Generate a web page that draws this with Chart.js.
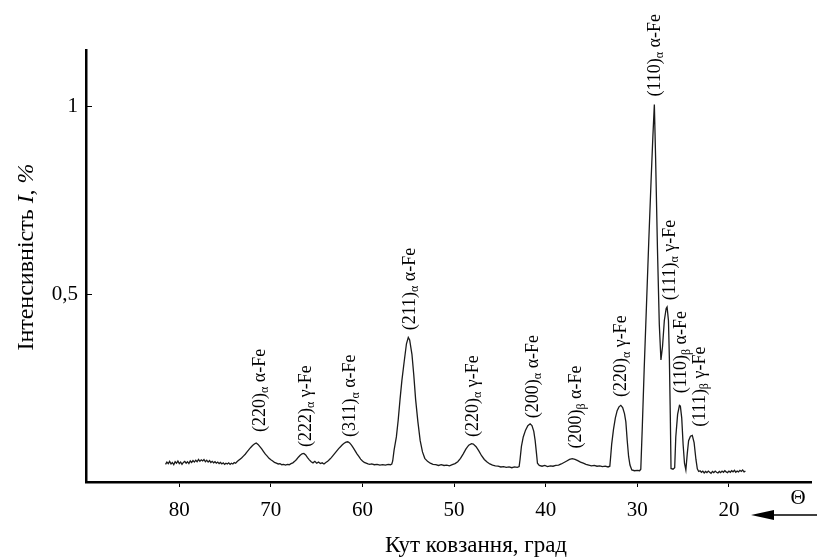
<!DOCTYPE html>
<html lang="uk">
<head>
<meta charset="UTF-8">
<title>XRD</title>
<script src="https://cdn.jsdelivr.net/npm/chart.js@4.4.1/dist/chart.umd.min.js"></script>
<style>
    html, body { margin: 0; padding: 0; background: #fff; }
    #wrap { width: 817px; height: 559px; }
</style>
</head>
<body>
<div id="wrap"><canvas id="xrd" width="817" height="559"></canvas></div>
<script>
    // diffraction angle, deg (descending)
    const theta = [
        81.5, 81.35, 81.2, 81.05, 80.9, 80.75, 80.6, 80.45, 80.3, 80.15, 80.0, 79.85, 79.7, 79.55, 79.4, 79.25,
        79.1, 78.95, 78.8, 78.65, 78.5, 78.35, 78.2, 78.05, 77.9, 77.75, 77.6, 77.45, 77.3, 77.15, 77.0, 76.85,
        76.7, 76.55, 76.4, 76.25, 76.1, 75.95, 75.8, 75.65, 75.5, 75.35, 75.2, 75.05, 74.9, 74.75, 74.6, 74.45,
        74.3, 74.15, 74.0, 73.85, 73.7, 73.55,
        73.4, 73.2, 73.0, 72.8, 72.6, 72.4, 72.2, 72.0, 71.8, 71.6, 71.4, 71.2, 71.0, 70.8, 70.6, 70.4, 70.2, 70.0,
        69.8, 69.6, 69.4, 69.2, 69.0, 68.8, 68.6, 68.4, 68.2, 68.0, 67.8, 67.6, 67.4, 67.2, 67.0, 66.8, 66.6, 66.4,
        66.2, 66.0, 65.8, 65.6, 65.4, 65.2, 65.0, 64.8, 64.6, 64.4, 64.2, 64.0, 63.8, 63.6, 63.4, 63.2, 63.0, 62.8,
        62.6, 62.4, 62.2, 62.0, 61.8, 61.6, 61.4, 61.2, 61.0, 60.8, 60.6, 60.4, 60.2, 60.0, 59.8, 59.6, 59.4, 59.2,
        59.0, 58.7, 58.4, 58.1, 57.8, 57.5, 57.2, 56.95,
        56.8, 56.7, 56.55, 56.3, 56.1, 55.9, 55.7, 55.45, 55.2, 55.0, 54.85, 54.6, 54.4, 54.2, 53.95, 53.7, 53.45,
        53.2, 52.9, 52.6, 52.3, 52.0, 51.7, 51.4, 51.1, 50.8, 50.5, 50.2, 49.9, 49.6, 49.3, 49.0, 48.7, 48.4, 48.1,
        47.9, 47.6, 47.3, 47.0, 46.7, 46.4, 46.1, 45.8, 45.5, 45.2, 44.9, 44.6, 44.3, 44.0, 43.7, 43.4, 43.1, 42.9,
        42.8, 42.65, 42.45, 42.2, 41.95, 41.7, 41.5, 41.3, 41.15, 41.0, 40.9, 40.7, 40.4, 40.1, 39.8, 39.5, 39.2,
        38.9, 38.6, 38.3, 38.0, 37.7, 37.4, 37.1, 36.8, 36.5, 36.2, 35.9, 35.6, 35.3, 35.0, 34.7, 34.4, 34.1, 33.8,
        33.5, 33.2, 33.0, 32.9, 32.8, 32.6, 32.4, 32.2, 32.0, 31.8, 31.6, 31.4, 31.25, 31.1, 30.95, 30.8, 30.6,
        30.3, 30.0, 29.75, 29.62, 29.45, 29.25, 29.0, 28.75, 28.5, 28.3, 28.14, 28.0, 27.8, 27.6, 27.42, 27.25,
        27.05, 26.85, 26.75, 26.6, 26.5, 26.4, 26.32, 26.1, 25.92, 25.8, 25.6, 25.4, 25.3, 25.15, 25.0, 24.85,
        24.7, 24.55, 24.4, 24.2, 24.0, 23.8, 23.6, 23.45, 23.3,
        23.15, 23.0, 22.85, 22.7, 22.55, 22.4, 22.25, 22.1, 21.95, 21.8, 21.65, 21.5, 21.35, 21.2, 21.05, 20.9,
        20.75, 20.6, 20.45, 20.3, 20.15, 20.0, 19.85, 19.7, 19.55, 19.4, 19.25, 19.1, 18.95, 18.8, 18.65, 18.5,
        18.35, 18.2
    ];

    // relative intensity
    const intensity = [
        .047, .053, .049, .055, .048, .052, .046, .054, .050, .056, .049, .053, .047, .052, .055, .050,
        .054, .049, .056, .052, .057, .053, .058, .054, .060, .055, .059, .056, .060, .054, .058, .053,
        .057, .052, .055, .051, .054, .050, .053, .049, .052, .048, .051, .047, .050, .048, .051, .047,
        .050, .048, .052, .050, .054, .057,
        .060, .064, .069, .074, .080, .086, .092, .097, .101, .104, .100, .094, .088, .081, .074, .069, .063, .059,
        .056, .052, .050, .048, .049, .046, .047, .045, .047, .046, .049, .051, .055, .060, .066, .071, .075, .076,
        .072, .065, .059, .054, .051, .055, .050, .053, .049, .051, .048, .052, .055, .060, .065, .071, .077, .083,
        .089, .094, .099, .103, .106, .107, .104, .098, .091, .083, .075, .068, .061, .056, .052, .050, .048, .047,
        .048, .046, .047, .045, .046, .045, .047, .046,
        .048, .056, .085, .120, .165, .220, .270, .320, .368, .385, .378, .340, .285, .220, .160, .110, .080,
        .063, .055, .050, .047, .046, .044, .046, .044, .045, .043, .046, .049, .054, .063, .075, .088, .098, .102,
        .101, .094, .083, .070, .060, .053, .048, .045, .043, .042, .040, .041, .039, .040, .038, .040, .039, .041,
        .060, .095, .120, .138, .150, .155, .150, .135, .110, .075, .050, .044, .042, .044, .041, .043, .042,
        .044, .045, .048, .052, .056, .060, .062, .060, .057, .053, .050, .047, .045, .043, .044, .042, .043, .041,
        .042, .040, .042, .070, .100, .140, .170, .190, .200, .204, .198, .182, .160, .110, .068, .045, .032,
        .030, .031, .030, .034, .150, .300, .470, .640, .800, .920, 1.005, .860, .620, .420, .325, .360,
        .430, .462, .466, .430, .330, .180, .036, .034, .038, .120, .180, .204, .202, .170, .100, .050,
        .032, .075, .110, .122, .124, .105, .060, .035, .028,
        .030, .026, .029, .024, .028, .025, .029, .026, .023, .028, .025, .029, .026, .024, .028, .025,
        .029, .026, .030, .027, .025, .029, .026, .030, .027, .031, .026, .029, .027, .031, .028, .032,
        .027, .029
    ];

    // peak labels: Miller indices, radiation line, phase, and where the label starts (data units)
    const labelHkl   = ['(220)', '(222)', '(311)', '(211)', '(220)', '(200)', '(200)', '(220)', '(110)', '(111)', '(110)', '(111)'];
    const labelLine  = ['α', 'α', 'α', 'α', 'α', 'α', 'β', 'α', 'α', 'α', 'β', 'β'];
    const labelPhase = ['α-Fe', 'γ-Fe', 'α-Fe', 'α-Fe', 'γ-Fe', 'α-Fe', 'α-Fe', 'γ-Fe', 'α-Fe', 'γ-Fe', 'α-Fe', 'γ-Fe'];
    const labelTheta = [71.19, 66.17, 61.29, 54.81, 47.9, 41.35, 36.62, 31.7, 28.07, 26.43, 25.15, 23.15];
    const labelI     = [0.133, 0.093, 0.12, 0.404, 0.12, 0.17, 0.089, 0.226, 1.026, 0.484, 0.236, 0.147];

    const xTicks = [20, 30, 40, 50, 60, 70, 80];
    const yTicks = [0.5, 1];

    const SERIF = '"Liberation Serif", "Times New Roman", serif';

    const points = theta.map((t, i) => ({x: t, y: intensity[i]}));

    const decor = {
        id: 'decor',
        afterDraw(chart) {
            const ctx = chart.ctx;
            const xs = chart.scales.x, ys = chart.scales.y;
            const area = chart.chartArea;
            ctx.save();
            ctx.fillStyle = '#000';
            ctx.strokeStyle = '#000';

            // small inner ticks on the y axis
            ctx.lineWidth = 1;
            yTicks.forEach(v => {
                const py = Math.round(ys.getPixelForValue(v)) + 0.5;
                ctx.beginPath();
                ctx.moveTo(area.left, py);
                ctx.lineTo(area.left + 6, py);
                ctx.stroke();
            });

            // peak labels, rotated
            for (let i = 0; i < labelHkl.length; i++) {
                const px = xs.getPixelForValue(labelTheta[i]);
                const py = ys.getPixelForValue(labelI[i]);
                ctx.save();
                ctx.translate(px, py);
                ctx.rotate(-Math.PI / 2);
                ctx.textAlign = 'left';
                ctx.textBaseline = 'middle';
                let cx = 0;
                ctx.font = '18px ' + SERIF;
                ctx.fillText(labelHkl[i], cx, 0);
                cx += ctx.measureText(labelHkl[i]).width;
                ctx.font = '12px ' + SERIF;
                ctx.fillText(labelLine[i], cx, 5);
                cx += ctx.measureText(labelLine[i]).width;
                ctx.font = '18px ' + SERIF;
                ctx.fillText(' ' + labelPhase[i], cx, 0);
                ctx.restore();
            }

            // axis titles
            ctx.font = '23px ' + SERIF;
            ctx.textAlign = 'center';
            ctx.textBaseline = 'middle';
            ctx.fillText('Кут ковзання, град', 476, 546);

            ctx.save();
            ctx.translate(27, 257);
            ctx.rotate(-Math.PI / 2);
            const parts = [
                ['Інтенсивність ', '24px ' + SERIF],
                ['I', 'italic 24px ' + SERIF],
                [', ', '24px ' + SERIF],
                ['%', 'italic 24px ' + SERIF]
            ];
            let total = 0;
            parts.forEach(p => { ctx.font = p[1]; total += ctx.measureText(p[0]).width; });
            let cx = -total / 2;
            ctx.textAlign = 'left';
            parts.forEach(p => {
                ctx.font = p[1];
                ctx.fillText(p[0], cx, 0);
                cx += ctx.measureText(p[0]).width;
            });
            ctx.restore();

            // direction mark
            ctx.font = '21px ' + SERIF;
            ctx.fillText('Θ', 798, 498);
            ctx.lineWidth = 1.5;
            ctx.beginPath();
            ctx.moveTo(817, 515);
            ctx.lineTo(768, 515);
            ctx.stroke();
            ctx.beginPath();
            ctx.moveTo(751, 515);
            ctx.lineTo(774, 510);
            ctx.lineTo(774, 520);
            ctx.closePath();
            ctx.fill();
            ctx.restore();
        }
    };

    new Chart(document.getElementById('xrd'), {
        type: 'scatter',
        data: {
            datasets: [{
                data: points,
                showLine: true,
                borderColor: '#1a1a1a',
                borderWidth: 1.3,
                pointRadius: 0,
                tension: 0
            }]
        },
        options: {
            responsive: false,
            animation: false,
            layout: {padding: {left: 0, top: 50, right: 6, bottom: 0}},
            plugins: {legend: {display: false}, tooltip: {enabled: false}},
            scales: {
                x: {
                    type: 'linear',
                    reverse: true,
                    min: 11.04,
                    max: 90.18,
                    afterFit: s => { s.height = 77; },
                    afterBuildTicks: s => { s.ticks = xTicks.map(v => ({value: v})); },
                    grid: {display: true, drawOnChartArea: false, drawTicks: true, tickLength: 5, color: '#000', tickWidth: 1},
                    border: {display: true, color: '#000', width: 2.5},
                    ticks: {color: '#000', font: {family: SERIF, size: 21}, padding: 11, maxRotation: 0}
                },
                y: {
                    min: 0,
                    max: 1.15,
                    afterFit: s => { s.width = 86; },
                    afterBuildTicks: s => { s.ticks = yTicks.map(v => ({value: v})); },
                    grid: {display: false, drawTicks: false},
                    border: {display: true, color: '#000', width: 2.5},
                    ticks: {
                        color: '#000',
                        font: {family: SERIF, size: 21},
                        padding: 8,
                        callback: v => String(v).replace('.', ',')
                    }
                }
            }
        },
        plugins: [decor]
    });
</script>
</body>
</html>
